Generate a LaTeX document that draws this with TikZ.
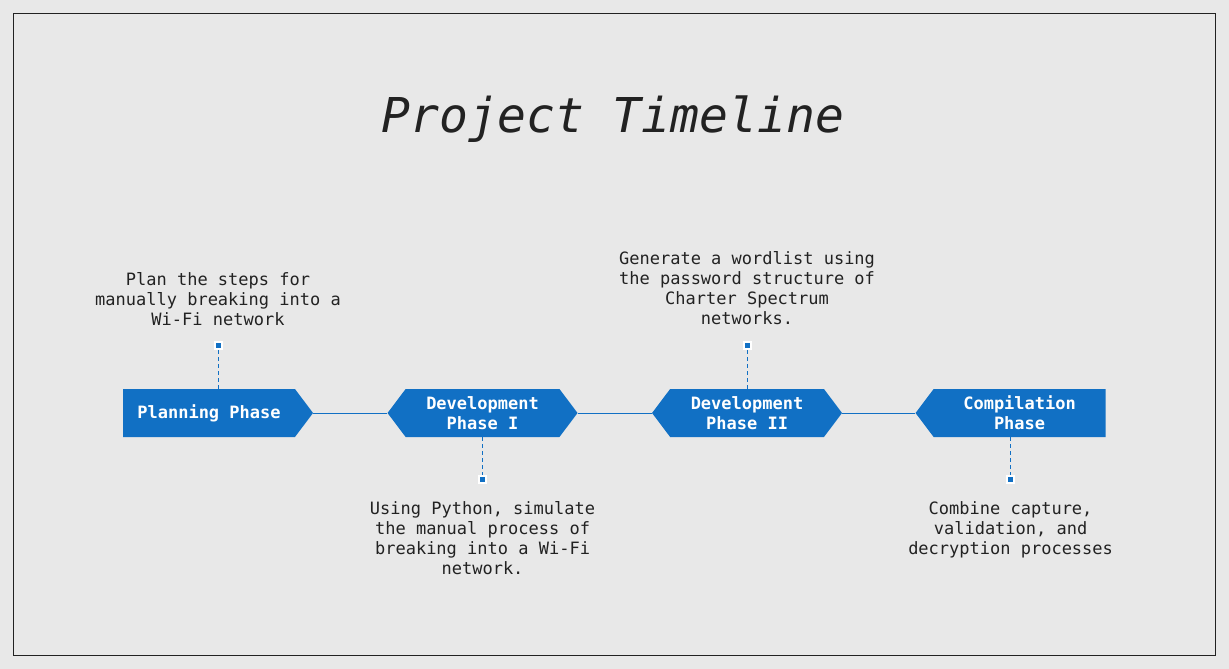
\documentclass[tikz,border=0pt]{standalone}
\usepackage{fontspec}
\setmonofont{DejaVu Sans Mono}
\usetikzlibrary{positioning}
\usetikzlibrary{shapes.symbols}
\definecolor{phaseblue}{HTML}{1170C4}
\definecolor{paper}{HTML}{E8E8E8}
\definecolor{ink}{HTML}{222222}

\begin{document}
\begin{tikzpicture}[x=1pt, y=-1pt,
      phase/.style={signal, fill=phaseblue, text=white, align=center,
        font=\ttfamily\bfseries\fontsize{17}{20}\selectfont,
        minimum width=190pt, minimum height=48pt, inner sep=0pt,
        signal pointer angle=106},
      knob/.style={rectangle, fill=phaseblue, draw=white, line width=2pt,
        minimum size=7pt, inner sep=0pt},
      note/.style={text=ink, align=center, inner sep=0pt,
        font=\ttfamily\fontsize{17}{20}\selectfont},
      tie/.style={draw=phaseblue, line width=1pt},
      lead/.style={draw=phaseblue, line width=1pt, dash pattern=on 4pt off 3pt}]
      \fill[paper] (0,0) rectangle (1229,669);
      \draw[ink, line width=1pt] (13.5,13.5) rectangle (1215.5,655.5);

      \node[text=ink, anchor=base, font=\ttfamily\itshape\fontsize{48}{58}\selectfont]
        (title) at (613,132) {Project Timeline};

      \node[phase, signal to=east] (plan) at (209,413) {Planning Phase};
      \node[phase, signal to=east and west, right=74pt of plan] (devone) {Development\\Phase I};
      \node[phase, signal to=east and west, right=74pt of devone] (devtwo) {Development\\Phase II};
      \node[phase, signal to=west, right=73pt of devtwo] (comp) {Compilation\\Phase};

      \draw[tie] (plan.east) -- (devone.west);
      \draw[tie] (devone.east) -- (devtwo.west);
      \draw[tie] (devtwo.east) -- (comp.west);

      \node[knob, above=39pt of plan, xshift=9pt] (kplan) {};
      \node[knob, below=38pt of devone] (kdevone) {};
      \node[knob, above=39pt of devtwo] (kdevtwo) {};
      \node[knob, below=38pt of comp, xshift=-9pt] (kcomp) {};

      \draw[lead] (plan.north -| kplan) -- (kplan);
      \draw[lead] (devone.south) -- (kdevone);
      \draw[lead] (devtwo.north) -- (kdevtwo);
      \draw[lead] (comp.south -| kcomp) -- (kcomp);

      \node[note, above=15pt of kplan] (nplan) {Plan the steps for\\manually breaking into a\\Wi-Fi network};
      \node[note, below=17pt of kdevone] (ndevone) {Using Python, simulate\\the manual process of\\breaking into a Wi-Fi\\network.};
      \node[note, above=16pt of kdevtwo] (ndevtwo) {Generate a wordlist using\\the password structure of\\Charter Spectrum\\networks.};
      \node[note, below=17pt of kcomp] (ncomp) {Combine capture,\\validation, and\\decryption processes};
    \end{tikzpicture}
\end{document}
